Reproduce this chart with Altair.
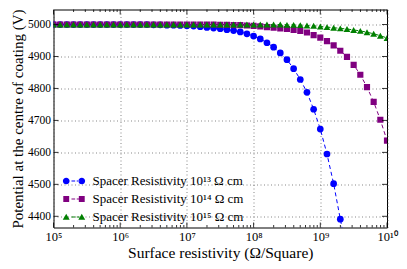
import altair as alt
import pandas as pd

# log10 of the surface resistivity at which each point was computed
exponents = [5.0, 5.1, 5.2, 5.3, 5.4, 5.5, 5.6, 5.7, 5.8, 5.9,
             6.0, 6.1, 6.2, 6.3, 6.4, 6.5, 6.6, 6.7, 6.8, 6.9,
             7.0, 7.1, 7.2, 7.3, 7.4, 7.5, 7.6, 7.7, 7.8, 7.9,
             8.0, 8.1, 8.2, 8.3, 8.4, 8.5, 8.6, 8.7, 8.8, 8.9,
             9.0, 9.1, 9.2, 9.3, 9.4, 9.5, 9.6, 9.7, 9.8, 9.9, 10.0]

blue_v = [5000, 5000, 5000, 5000, 5000, 5000, 5000, 5000, 5000, 5000,
          5000, 5000, 5000, 5000, 5000, 4999, 4999, 4998, 4998, 4997,
          4996, 4995, 4993, 4991, 4989, 4987, 4984, 4981, 4977, 4971,
          4964, 4955, 4943, 4929, 4911, 4890, 4862, 4828, 4788, 4735,
          4673, 4595, 4502, 4391, 4285]

purple_v = [5000, 5000, 5000, 5000, 5000, 5000, 5000, 5000, 5000, 5000,
            5000, 5000, 5000, 5000, 5000, 5000, 5000, 5000, 5000, 5000,
            5000, 5000, 5000, 5000, 5000, 4999, 4999, 4998, 4998, 4997,
            4996, 4994, 4992, 4990, 4988, 4986, 4983, 4980, 4975, 4967,
            4959, 4948, 4935, 4918, 4899, 4874, 4843, 4804, 4758, 4702, 4637]

green_v = [5000, 5000, 5000, 5000, 5000, 5000, 5000, 5000, 5000, 5000,
           5000, 5000, 5000, 5000, 5000, 5000, 5000, 5000, 5000, 5000,
           5000, 5000, 5000, 5000, 5000, 5000, 5000, 5000, 5000, 5000,
           5000, 5000, 5000, 5000, 5000, 4999, 4999, 4998, 4997, 4996,
           4994, 4992, 4990, 4988, 4986, 4983, 4980, 4976, 4971, 4965, 4958]

series_labels = ["Spacer Resistivity 10¹³ Ω cm",
                 "Spacer Resistivity 10¹⁴ Ω cm",
                 "Spacer Resistivity 10¹⁵ Ω cm"]
series_colors = ["#0000ff", "#800080", "#008000"]
series_shapes = ["circle", "square", "triangle-up"]
series_sizes = [45, 38, 46]

x_ticks = [1e5, 1e6, 1e7, 1e8, 1e9, 1e10]
x_tick_labels = ["10⁵", "10⁶", "10⁷", "10⁸", "10⁹", "10¹⁰"]
y_ticks = [4400, 4500, 4600, 4700, 4800, 4900, 5000]
minor_x = [k * 10 ** n for n in range(5, 10) for k in range(2, 10)]

PAD_L, PAD_T, PAD_R, PAD_B = 45.5, 1.5, 12, 33.5
W, H = 391 - PAD_L - PAD_R, 253 - PAD_T - PAD_B
FONT = "Liberation Serif, Times New Roman, serif"

rows = []
for lab, vals in zip(series_labels, [blue_v, purple_v, green_v]):
    for e, v in zip(exponents, vals):
        rows.append({"x": 10 ** e, "y": v, "series": lab})
df = pd.DataFrame(rows)

label_expr = "".join(
    f"abs(datum.value - {v}) < {v * 0.01} ? '{l}' : " for v, l in zip(x_ticks, x_tick_labels)
) + "''"

xscale = alt.Scale(type="log", domain=[1e5, 1e10], nice=False)
yscale = alt.Scale(domain=[4365, 5047], nice=False, zero=False)
cscale = alt.Scale(domain=series_labels, range=series_colors)

x_axis = alt.Axis(values=x_ticks, labelExpr=label_expr, grid=True, ticks=False,
                  domain=False, labelPadding=3, labelFontSize=12.5,
                  title="Surface resistivity (Ω/Square)", titleFontSize=15.5,
                  titlePadding=2, labelFlush=False)
y_axis = alt.Axis(values=y_ticks, grid=True, ticks=False, domain=False,
                  labelPadding=3, labelFontSize=11.5, format="d", labelOverlap=False,
                  title="Potential at the centre of coating (V)", titleFontSize=15,
                  titlePadding=2)


def X(field="x"):
    return alt.X(f"{field}:Q", scale=xscale, axis=x_axis)


def Y(field="y"):
    return alt.Y(f"{field}:Q", scale=yscale, axis=y_axis)


base = alt.Chart(df)

# legend symbols: two markers joined by a dash, in the unit box [-1, 1]
def circ(cx, r):
    return f"M{cx - r},0A{r},{r} 0 1,0 {cx + r},0A{r},{r} 0 1,0 {cx - r},0Z"

def sq(cx, h):
    return f"M{cx - h},{-h}L{cx + h},{-h}L{cx + h},{h}L{cx - h},{h}Z"

def tri(cx, hw):
    return f"M{cx},-0.3L{cx + hw},0.26L{cx - hw},0.26Z"

dash = "M-0.24,-0.05L0.11,-0.05L0.11,0.05L-0.24,0.05ZM0.26,-0.05L0.5,-0.05L0.5,0.05L0.26,0.05Z"
legend_paths = [
    circ(-0.74, 0.32) + circ(0.74, 0.32) + dash,
    sq(-0.74, 0.28) + sq(0.74, 0.28) + dash,
    tri(-0.74, 0.33) + tri(0.74, 0.33) + dash,
]

leg = alt.Legend(title=None, orient="none", legendX=10, legendY=161, symbolSize=441,
                 labelFont=FONT, labelFontSize=13, labelOffset=8, rowPadding=0,
                 padding=0, labelLimit=400, symbolStrokeWidth=0)
legend_layer = base.transform_filter("false").mark_point(filled=True, opacity=1).encode(
    x=X(), y=Y(),
    color=alt.Color("series:N", scale=cscale, legend=leg),
    shape=alt.Shape("series:N", scale=alt.Scale(domain=series_labels, range=legend_paths), legend=leg),
)

lines = base.mark_line(strokeDash=[4, 3], strokeWidth=1, clip=True).encode(
    x=X(), y=Y(),
    color=alt.Color("series:N", scale=cscale, legend=None),
    detail="series:N",
)

point_layers = []
for lab, shp, sz in zip(series_labels, series_shapes, series_sizes):
    point_layers.append(
        base.transform_filter(alt.datum.series == lab)
        .mark_point(filled=True, shape=shp, size=sz, opacity=1, clip=True)
        .encode(x=X(), y=Y(),
                color=alt.Color("series:N", scale=cscale, legend=None))
    )

# inward tick marks
major_df = pd.DataFrame({"x": x_ticks})
minor_df = pd.DataFrame({"x": minor_x})
ytick_df = pd.DataFrame({"y": y_ticks})
tick_style = dict(color="black", strokeWidth=0.8)
tick_layers = [
    alt.Chart(major_df).mark_rule(**tick_style).encode(x=X(), y=alt.value(H), y2=alt.value(H - 5)),
    alt.Chart(major_df).mark_rule(**tick_style).encode(x=X(), y=alt.value(0), y2=alt.value(5)),
    alt.Chart(minor_df).mark_rule(**tick_style).encode(x=X(), y=alt.value(H), y2=alt.value(H - 2.5)),
    alt.Chart(minor_df).mark_rule(**tick_style).encode(x=X(), y=alt.value(0), y2=alt.value(2.5)),
    alt.Chart(ytick_df).mark_rule(**tick_style).encode(y=Y(), x=alt.value(0), x2=alt.value(5)),
    alt.Chart(ytick_df).mark_rule(**tick_style).encode(y=Y(), x=alt.value(W), x2=alt.value(W - 5)),
]

chart = alt.layer(legend_layer, lines, *point_layers, *tick_layers).properties(
    width=W, height=H,
    autosize=alt.AutoSizeParams(type="none"),
    padding={"left": PAD_L, "top": PAD_T, "right": PAD_R, "bottom": PAD_B},
).configure_view(stroke="black", strokeWidth=1).configure_axis(
    labelFont=FONT, titleFont=FONT, labelColor="black", titleColor="black",
    titleFontWeight="normal", gridColor="#555555", gridDash=[1, 2.5], gridWidth=0.7,
)

chart.save("out.html", embed_options={"renderer": "svg", "actions": False})
